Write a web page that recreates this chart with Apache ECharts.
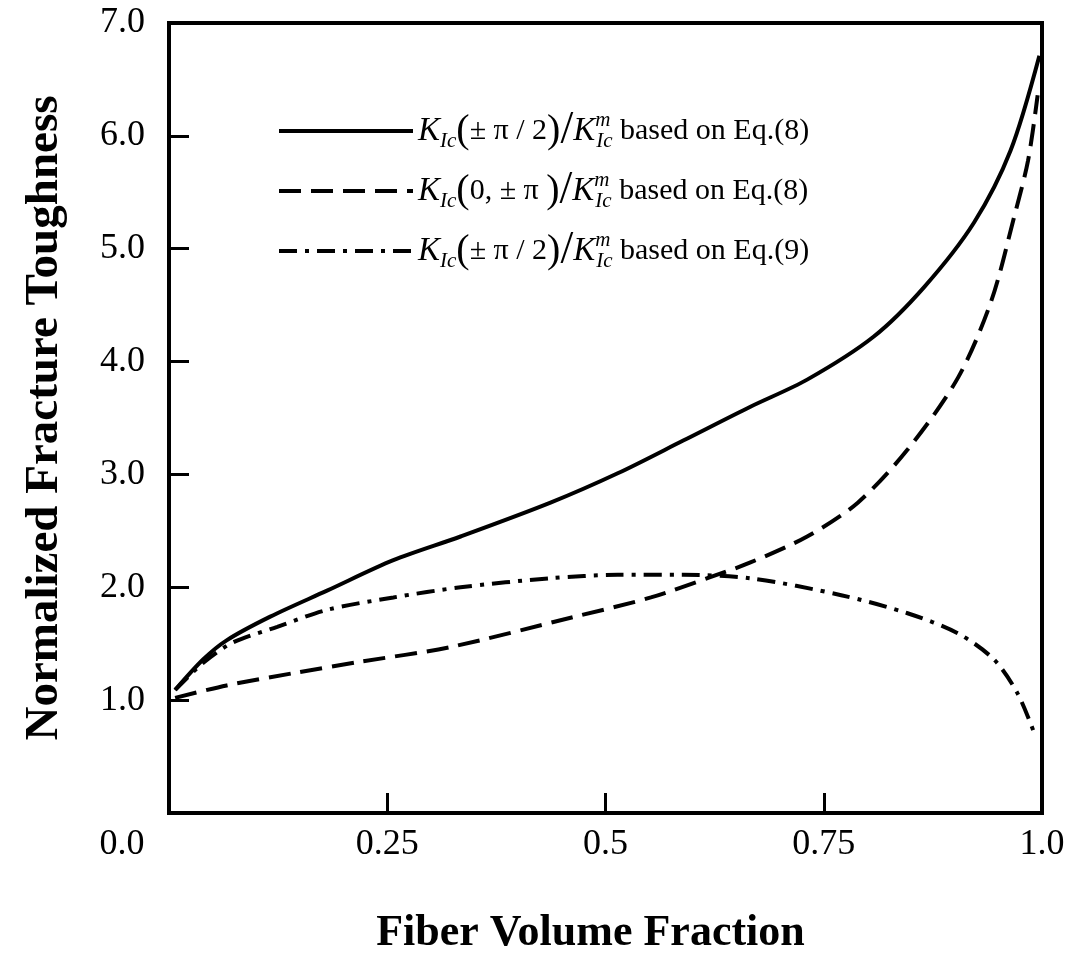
<!DOCTYPE html>
<html>
<head>
<meta charset="utf-8">
<script src="https://cdn.jsdelivr.net/npm/echarts@6/dist/echarts.min.js"></script>
<style>
  html, body { margin: 0; padding: 0; background: #fff; }
  #chart { width: 1078px; height: 963px; }
</style>
</head>
<body>
<div id="chart"></div>
<script>
// K_Ic(±π/2)/K_Ic^m based on Eq.(8)
const solidX = [0.007, 0.039, 0.066, 0.116, 0.181, 0.257, 0.334, 0.437, 0.514, 0.589, 0.666, 0.731, 0.807, 0.865, 0.922, 0.964, 0.997]
const solidY = [1.09, 1.36, 1.53, 1.74, 1.97, 2.24, 2.45, 2.75, 3.01, 3.30, 3.60, 3.84, 4.22, 4.66, 5.23, 5.87, 6.71]
// K_Ic(0,±π)/K_Ic^m based on Eq.(8)
const dashX = [0.007, 0.066, 0.143, 0.219, 0.322, 0.460, 0.552, 0.620, 0.666, 0.731, 0.789, 0.846, 0.904, 0.942, 0.968, 0.984, 0.995]
const dashY = [1.02, 1.13, 1.24, 1.34, 1.47, 1.73, 1.91, 2.09, 2.22, 2.45, 2.75, 3.22, 3.86, 4.54, 5.28, 5.78, 6.36]
// K_Ic(±π/2)/K_Ic^m based on Eq.(9)
const dotX = [0.007, 0.039, 0.073, 0.124, 0.181, 0.257, 0.334, 0.437, 0.514, 0.589, 0.666, 0.770, 0.846, 0.904, 0.945, 0.972, 0.991]
const dotY = [1.09, 1.33, 1.51, 1.65, 1.80, 1.91, 2.00, 2.08, 2.11, 2.11, 2.08, 1.93, 1.77, 1.59, 1.36, 1.06, 0.71]

const xTicks = [0, 0.25, 0.5, 0.75, 1]
const yTicks = [1, 2, 3, 4, 5, 6, 7]
const seriesNames = ['eq8_pi2', 'eq8_0pi', 'eq9_pi2']

const serif = 'Liberation Serif'
const pairs = (xs, ys) => xs.map((x, i) => [x, ys[i]])

const legendText = {
    eq8_pi2: '{k|K}{s|Ic}{p|(}{r|± π / 2}{p|)}{sl|/}{k|K}{m|m}{s|Ic}{r| based on Eq.(8)}',
    eq8_0pi: '{k|K}{s|Ic}{p|(}{r|0, ± π }{p|)}{sl|/}{k|K}{m|m}{s|Ic}{r| based on Eq.(8)}',
    eq9_pi2: '{k|K}{s|Ic}{p|(}{r|± π / 2}{p|)}{sl|/}{k|K}{m|m}{s|Ic}{r| based on Eq.(9)}'
}

const chart = echarts.init(document.getElementById('chart'))

chart.setOption({
    animation: false,
    backgroundColor: '#fff',
    grid: {
        left: 169,
        right: 36,
        top: 23,
        bottom: 150,
        show: true,
        borderColor: '#000',
        borderWidth: 4
    },
    legend: {
        orient: 'vertical',
        left: 272,
        top: 103,
        itemWidth: 134,
        itemHeight: 14,
        itemGap: 14,
        data: seriesNames,
        formatter: name => legendText[name],
        itemStyle: { opacity: 0 },
        lineStyle: { width: 4 },
        textStyle: {
            color: '#000',
            fontFamily: serif,
            fontSize: 30,
            lineHeight: 42,
            rich: {
                k: { fontFamily: serif, fontStyle: 'italic', fontSize: 33, lineHeight: 42, color: '#000' },
                s: { fontFamily: serif, fontStyle: 'italic', fontSize: 21, lineHeight: 22, verticalAlign: 'bottom', color: '#000' },
                m: { fontFamily: serif, fontStyle: 'italic', fontSize: 21, lineHeight: 22, verticalAlign: 'top', width: 1, color: '#000' },
                p: { fontFamily: serif, fontSize: 40, lineHeight: 42, color: '#000' },
                sl: { fontFamily: serif, fontSize: 46, lineHeight: 42, color: '#000' },
                r: { fontFamily: serif, fontSize: 30, lineHeight: 42, color: '#000' }
            }
        }
    },
    xAxis: {
        type: 'value',
        min: 0,
        max: 1,
        interval: 0.25,
        name: 'Fiber Volume Fraction',
        nameLocation: 'middle',
        nameGap: 99,
        nameTextStyle: {
            fontFamily: serif,
            fontWeight: 'bold',
            fontSize: 44,
            color: '#000',
            padding: [0, 30, 0, 0]
        },
        axisLine: { show: true, lineStyle: { color: '#000', width: 4 } },
        axisTick: { show: true, inside: true, length: 20, lineStyle: { color: '#000', width: 3 } },
        splitLine: { show: false },
        axisLabel: {
            margin: 14,
            fontFamily: serif,
            fontSize: 36,
            color: '#000',
            formatter: v => {
                if (v === xTicks[0]) return '{c|0.0}'
                if (v === 1) return '1.0'
                return String(v)
            },
            rich: {
                c: { fontFamily: serif, fontSize: 36, color: '#000', padding: [0, 94, 0, 0] }
            }
        }
    },
    yAxis: {
        type: 'value',
        min: 0,
        max: yTicks[yTicks.length - 1],
        interval: 1,
        name: 'Normalized Fracture Toughness',
        nameLocation: 'middle',
        nameRotate: 90,
        nameGap: 101,
        nameTextStyle: {
            fontFamily: serif,
            fontWeight: 'bold',
            fontSize: 47,
            color: '#000'
        },
        axisLine: { show: true, lineStyle: { color: '#000', width: 4 } },
        axisTick: { show: true, inside: true, length: 20, lineStyle: { color: '#000', width: 3 } },
        splitLine: { show: false },
        axisLabel: {
            showMinLabel: false,
            margin: 24,
            fontFamily: serif,
            fontSize: 36,
            color: '#000',
            formatter: v => v.toFixed(1)
        }
    },
    series: [
        {
            name: seriesNames[0],
            type: 'line',
            smooth: 0.3,
            symbol: 'none',
            itemStyle: { color: '#000' },
            lineStyle: { color: '#000', width: 4, type: 'solid' },
            data: pairs(solidX, solidY)
        },
        {
            name: seriesNames[1],
            type: 'line',
            smooth: 0.3,
            symbol: 'none',
            itemStyle: { color: '#000' },
            lineStyle: { color: '#000', width: 4, type: [22, 10] },
            data: pairs(dashX, dashY)
        },
        {
            name: seriesNames[2],
            type: 'line',
            smooth: 0.3,
            symbol: 'none',
            itemStyle: { color: '#000' },
            lineStyle: { color: '#000', width: 4, type: [18, 8, 4, 8] },
            data: pairs(dotX, dotY)
        }
    ]
})
</script>
</body>
</html>
